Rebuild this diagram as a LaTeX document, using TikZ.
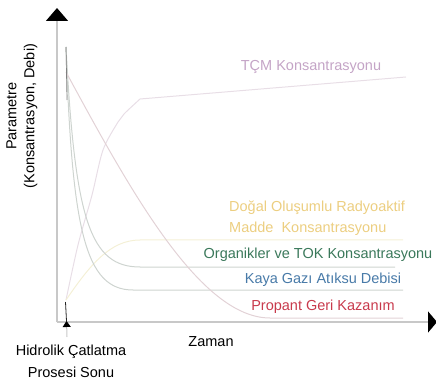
\documentclass[tikz,border=0pt]{standalone}
\usepackage{fontspec}
\setmainfont{Liberation Sans}
\usetikzlibrary{arrows.meta}
\definecolor{axisgray}{RGB}{200,200,200}
\definecolor{tcmline}{RGB}{232,222,230}
\definecolor{tcmtext}{RGB}{196,164,198}
\definecolor{normline}{RGB}{244,240,214}
\definecolor{normtext}{RGB}{236,206,128}
\definecolor{orgtext}{RGB}{58,120,90}
\definecolor{kayatext}{RGB}{72,122,168}
\definecolor{proptext}{RGB}{200,58,76}
\definecolor{curvegray}{RGB}{206,212,208}
\definecolor{propline}{RGB}{226,210,214}
\begin{document}
\begin{tikzpicture}[x=1pt,y=-1pt,
    lbl/.style={inner sep=0pt,font=\fontsize{14.5}{21}\selectfont},
    curve/.style={line width=1pt}]
    \useasboundingbox (0,0) rectangle (436,379);
    % axes
    \coordinate (origin) at (57,322);
    \coordinate (ytip) at (57,8);
    \coordinate (xtip) at (437,322);
    \draw[axisgray,line width=1.5pt,-{Triangle[black,width=22pt,length=13pt]}](origin)--(ytip);
    \draw[axisgray,line width=1.5pt,-{Triangle[black,width=21pt,length=9pt]}](origin)--(xtip);

    % curves
    \draw[curve,tcmline] plot [smooth, tension=0.5] coordinates {(66,300) (78,245) (92,195) (103,150) (118,122) (124,114) (140,99)} -- (406,77);
    \draw[curve,normline] (66,300) .. controls (90,265) and (110,240) .. (140,240) -- (403,240);
    \draw[curve,curvegray] (66,47) .. controls (75,220) and (90,267) .. (140,267) -- (395,267);
    \draw[curve,curvegray] (66,47) .. controls (72,230) and (85,290) .. (133,290) -- (403,290);
    \draw[curve,propline] (66,72) .. controls (130,190) and (200,318) .. (270,318) -- (403,318);
    \draw[line width=0.7pt,black!50] (66,47)--(67,100);
    \draw[line width=0.8pt,black!85] (65.5,302)--(66.5,321);

    % end of fracturing marker
    \coordinate (fracend) at (66.5,321);
    \coordinate (fracfoot) at (67,337);
    \draw[axisgray,line width=1pt,-{Triangle[black,width=8pt,length=6pt]}](fracfoot)--(fracend);

    % labels
    \node[lbl,tcmtext] (tcm) at (311,67) {TÇM Konsantrasyonu};
    \node[lbl,normtext,align=left,anchor=west] (norm) at (229,218.5) {Doğal Oluşumlu Radyoaktif\\Madde\ \ Konsantrasyonu};
    \node[lbl,orgtext] (org) at (318,255) {Organikler ve TOK Konsantrasyonu};
    \node[lbl,kayatext] (kaya) at (323,280) {Kaya Gazı Atıksu Debisi};
    \node[lbl,proptext] (prop) at (323,307) {Propant Geri Kazanım};
    \node[lbl] (zaman) at (211,342) {Zaman};
    \node[lbl,align=center,font=\fontsize{14.5}{22}\selectfont] (frac) at (71,361) {Hidrolik Çatlatma\\Prosesi Sonu};
    \node[lbl,align=center,rotate=90,font=\fontsize{14.5}{18}\selectfont] (param) at (22,116) {Parametre\\(Konsantrasyon, Debi)};
\end{tikzpicture}
\end{document}
